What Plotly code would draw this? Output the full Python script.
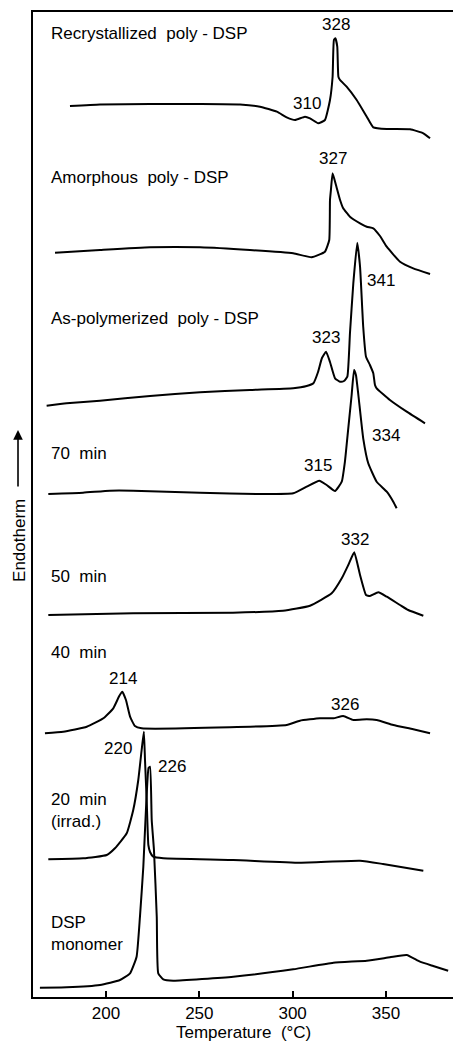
import plotly.graph_objects as go

# ---- Data (temperature in °C, signal in arbitrary endotherm units) ----
names = ["Recrystallized poly-DSP", "Amorphous poly-DSP", "As-polymerized poly-DSP",
         "70 min", "50 min", "40 min", "20 min (irrad.)", "DSP monomer"]

offsets = [892, 749, 605, 504, 384, 270, 138, 12]

t_recryst = [180.7, 196.8, 223.6, 250.4, 271.8, 282.5, 291.5, 296.8, 301.3, 306.6, 309.3, 313.7,
             317.3, 320.0, 321.4, 322.1, 322.9, 323.9, 324.5, 325.4, 328.9, 334.3, 339.7, 343.2,
             350.4, 362.9, 370.0, 373.6]
s_recryst = [-1, 0.5, 1, 1, 0.5, -1.7, -6.7, -12.3, -15, -11.7, -13.3, -18.3,
             -15, 5, 28.3, 65, 66.7, 58.3, 28.3, 25, 18.3, 5, -11.7, -22.3,
             -24, -24.3, -28.3, -33.3]

t_amorph = [172.7, 196.8, 223.6, 250.4, 277.1, 300.3, 310.2, 317.3, 319.6, 320.0, 320.5, 321.4,
            323.2, 325.4, 327.0, 330.7, 336.1, 339.7, 343.2, 346.8, 350.4, 357.5, 364.6, 373.6]
s_amorph = [-4.7, -2, 0.7, 0.7, -2, -5.3, -9.3, -3.7, 8, 48, 58, 74.7,
            63, 48, 40, 31.3, 24.7, 21.3, 19.7, 12, 1.3, -13.7, -20.3, -26]

t_aspoly = [168.2, 178.9, 196.8, 223.6, 250.4, 277.1, 300.3, 307.5, 311.1, 313.6, 315.7, 317.9,
            320.0, 322.7, 325.4, 327.5, 329.3, 330.7, 332.5, 334.6, 336.1, 337.8, 339.3, 341.4,
            343.2, 344.1, 345.0, 352.1, 361.1, 370.9]
s_aspoly = [-13.7, -11.3, -8.7, -4, -0.3, 2, 3.7, 6, 8.7, 20, 34, 40.3,
            30, 13.7, 10.3, 11, 15.3, 58.7, 108.7, 149.3, 125.3, 65.3, 35.3, 27,
            18.7, 7, 3.7, -8, -19.7, -31.3]

t_70 = [169.1, 187.7, 202.1, 214.5, 250.4, 282.5, 300.3, 307.5, 314.3, 318.2, 322.7, 326.3,
        328.0, 329.8, 331.6, 332.9, 333.9, 335.2, 337.8, 340.5, 345.0, 350.4, 353.9, 355.7]
s_70 = [-1, 0.3, 2.3, 2.3, 0.3, -1, -0.3, 6.3, 12.3, 8, 2, 11.3,
        31.3, 64.7, 98, 123, 118, 98, 54.7, 29.7, 11.3, 1.3, -8.7, -15.3]

t_50 = [169.1, 214.5, 268.0, 294.8, 309.3, 320.9, 326.3, 329.8, 333.0, 336.1, 339.3, 341.4,
        345.9, 350.4, 357.5, 361.9, 370.0]
s_50 = [-2, -0.3, 0.3, 2.3, 7.3, 19.7, 34.7, 48, 60.7, 38, 18, 17,
        20.7, 16.3, 8, 3, -2.7]

t_40 = [167.3, 177.1, 189.7, 198.6, 203.9, 207.1, 208.7, 210.7, 212.9, 215.5, 219.1, 266.4,
        296.8, 303.9, 314.6, 321.8, 327.1, 332.5, 339.7, 345.0, 353.9, 364.6, 373.6]
s_40 = [-6.3, -4.7, 0.3, 8.7, 18.7, 31, 35.3, 27, 10.3, 1, -1.3, -0.3,
        2, 6.3, 8.7, 8.7, 11, 7, 7.7, 7, 2, -2.3, -6.3]

t_20 = [169.1, 187.8, 200.4, 204.8, 211.1, 214.6, 217.3, 219.1, 220.3, 220.9, 221.8, 222.7,
        223.6, 225.3, 230.7, 268.2, 303.9, 336.1, 348.4, 370.0]
s_20 = [-0.3, 0.7, 4, 10.7, 25.7, 49, 79, 109, 127.3, 99, 59, 14,
        7, 2.3, 0.7, -1, -3.7, -1.7, -5, -11.7]

t_mono = [164.6, 178.9, 196.8, 207.5, 212.9, 216.4, 218.2, 220.0, 221.4, 222.8, 223.6, 224.5,
          225.7, 227.2, 228.0, 230.7, 236.0, 268.2, 300.3, 321.8, 339.7, 352.1, 361.1, 368.2,
          375.3, 383.3]
s_mono = [-2.7, -2.3, 0, 5, 11.7, 28.3, 68.3, 118.3, 175, 217, 218.3, 165,
          135, 68.3, 11.7, 5.7, 4.3, 8.3, 15.7, 22.3, 24.3, 27.7, 30, 23.3,
          19, 14.3]

temps = [t_recryst, t_amorph, t_aspoly, t_70, t_50, t_40, t_20, t_mono]
signals = [s_recryst, s_amorph, s_aspoly, s_70, s_50, s_40, s_20, s_mono]

# Curve labels: text, x (°C), y (plot units)
curve_labels = ["Recrystallized  poly - DSP", "Amorphous  poly - DSP", "As-polymerized  poly - DSP",
                "70  min", "50  min", "40  min", "20  min<br>(irrad.)", "DSP<br>monomer"]
curve_label_y = [964, 820, 679, 544, 421, 345, 187, 63.5]
curve_label_x = 169.5

# Peak temperature labels
peak_text = ["328", "310", "327", "341", "323", "334", "315", "332", "214", "326", "220", "226"]
peak_x = [323.2, 307.7, 321.6, 347.3, 317.9, 350.0, 313.8, 333.4, 209.1, 328.0, 206.2, 235.6]
peak_y = [973, 894, 839, 717, 660, 561.5, 532, 458, 319, 293, 249, 230.3]

tick_vals = [200, 250, 300, 350]
tick_text = ["200", "250", "300", "350"]

FONT = "Liberation Sans, Arial, sans-serif"

fig = go.Figure()
for name, t, s, off in zip(names, temps, signals, offsets):
    fig.add_trace(go.Scatter(
        x=t, y=[v + off for v in s], mode="lines", name=name,
        line=dict(color="black", width=2, shape="spline", smoothing=0.4),
        showlegend=False, hoverinfo="skip"))

annotations = []
for txt, yy in zip(curve_labels, curve_label_y):
    annotations.append(dict(x=curve_label_x, y=yy, xref="x", yref="y", text=txt,
                            showarrow=False, xanchor="left", yanchor="middle", align="left",
                            font=dict(size=17, color="black", family=FONT)))
for txt, xx, yy in zip(peak_text, peak_x, peak_y):
    annotations.append(dict(x=xx, y=yy, xref="x", yref="y", text=txt, showarrow=False,
                            xanchor="center", yanchor="middle",
                            font=dict(size=17, color="black", family=FONT)))

# y-axis title with upward arrow
annotations.append(dict(x=-0.031, y=0.464, xref="paper", yref="paper", text="Endotherm",
                        textangle=-90, showarrow=False, xanchor="center", yanchor="middle",
                        font=dict(size=17, color="black", family=FONT)))
annotations.append(dict(x=-0.0357, y=0.5756, xref="paper", yref="paper", text="",
                        showarrow=True, ax=0, ay=58, arrowhead=2, arrowsize=1.2,
                        arrowwidth=1.6, arrowcolor="black"))
# x-axis title
annotations.append(dict(x=0.5, y=-0.0365, xref="paper", yref="paper",
                        text="Temperature  (°C)", showarrow=False,
                        xanchor="center", yanchor="middle",
                        font=dict(size=17, color="black", family=FONT)))

fig.update_layout(
    width=453, height=1042,
    margin=dict(l=33, r=0, t=12, b=45),
    paper_bgcolor="white", plot_bgcolor="white",
    annotations=annotations,
    font=dict(family=FONT, color="black"),
    xaxis=dict(range=[160.9, 385.9], showgrid=False, zeroline=False,
               showline=True, linecolor="black", linewidth=1.5, mirror=True,
               ticks="inside", ticklen=6, tickwidth=1.5, tickcolor="black",
               tickvals=tick_vals, ticktext=tick_text,
               tickfont=dict(size=17, color="black", family=FONT)),
    yaxis=dict(range=[0, 985], showgrid=False, zeroline=False,
               showline=True, linecolor="black", linewidth=1.5, mirror=False,
               showticklabels=False, ticks=""),
)

fig.write_html("out.html")
